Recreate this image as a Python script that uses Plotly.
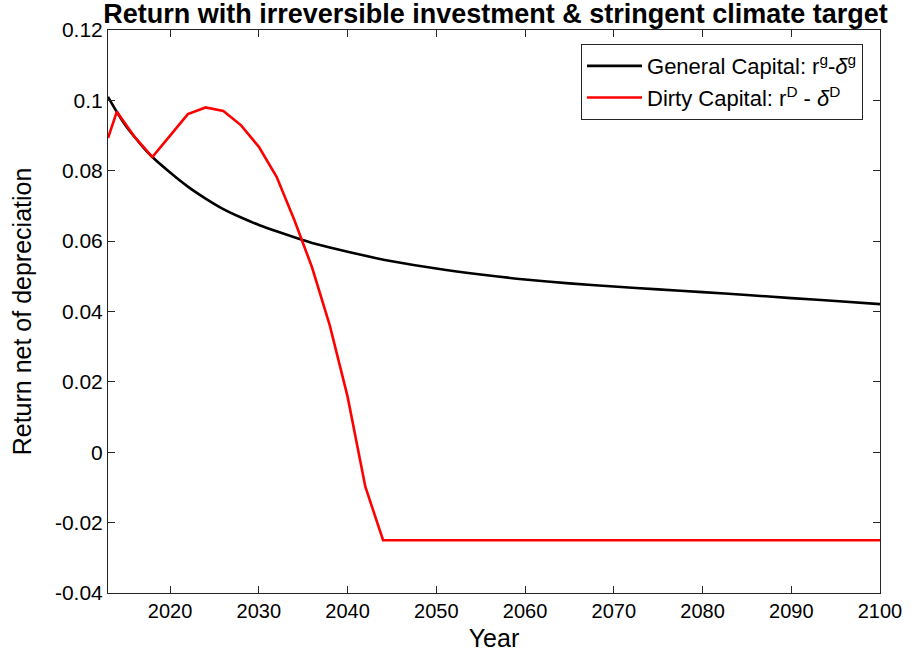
import plotly.graph_objects as go

# General capital: r^g - delta^g
general_years = [2013, 2014, 2015, 2016, 2017, 2018, 2020, 2022, 2024, 2026, 2028, 2030,
                 2032, 2034, 2036, 2038, 2040, 2043, 2045, 2050, 2055, 2060, 2065, 2070,
                 2075, 2080, 2085, 2090, 2095, 2100]
general_vals = [0.101, 0.0967, 0.0928, 0.0896, 0.0866, 0.0839, 0.0795, 0.0755, 0.0721, 0.0691,
                0.0667, 0.0646, 0.0628, 0.0611, 0.0595, 0.0582, 0.0570, 0.0553, 0.0543, 0.0522,
                0.0505, 0.0491, 0.0480, 0.0471, 0.0463, 0.0455, 0.0447, 0.0438, 0.0430, 0.0421]

# Dirty capital: r^D - delta^D
dirty_years = [2013, 2014, 2016, 2018, 2020, 2022, 2024, 2026, 2028, 2030, 2032, 2034,
               2036, 2038, 2040, 2042, 2044, 2100]
dirty_vals = [0.0893, 0.0968, 0.0896, 0.0839, 0.0900, 0.0961, 0.0980, 0.0970, 0.0929, 0.0868,
              0.0783, 0.0660, 0.0525, 0.0360, 0.0158, -0.0098, -0.0250, -0.0250]

x_ticks = [2020, 2030, 2040, 2050, 2060, 2070, 2080, 2090, 2100]
y_ticks = [-0.04, -0.02, 0, 0.02, 0.04, 0.06, 0.08, 0.1, 0.12]
y_tick_text = ["-0.04", "-0.02", "0", "0.02", "0.04", "0.06", "0.08", "0.1", "0.12"]

FONT = "Liberation Sans, Arial, Helvetica, sans-serif"
AXC = "#262626"

fig = go.Figure()
fig.add_trace(go.Scatter(
    x=general_years, y=general_vals, mode="lines",
    line=dict(color="black", width=2.6, shape="spline", smoothing=0.8),
    name="General Capital: r<sup>g</sup>-<i>δ</i><sup>g</sup>"))
fig.add_trace(go.Scatter(
    x=dirty_years, y=dirty_vals, mode="lines",
    line=dict(color="#ff0000", width=2.6),
    name="Dirty Capital: r<sup>D</sup> - <i>δ</i><sup>D</sup>"))

fig.update_layout(
    width=914, height=661,
    margin=dict(l=108, r=31, t=30, b=68),
    paper_bgcolor="white", plot_bgcolor="white",
    font=dict(family=FONT, color="black"),
    title=dict(text="<b>Return with irreversible investment & stringent climate target</b>",
               x=(108 + 883) / 2 / 914, xanchor="center", y=1 - 14 / 661, yanchor="middle",
               font=dict(size=27, family=FONT, color="black")),
    legend=dict(x=0.978, y=0.975, xanchor="right", yanchor="top",
                bgcolor="white", bordercolor=AXC, borderwidth=1,
                font=dict(size=22, family=FONT, color="black"),
                itemwidth=55, tracegroupgap=0),
    showlegend=True,
)
fig.update_xaxes(
    range=[2013, 2100], tickvals=x_ticks, ticks="inside", ticklen=7, tickcolor=AXC,
    showline=True, linecolor=AXC, linewidth=1, mirror="ticks", showgrid=False, zeroline=False,
    tickfont=dict(size=20, family=FONT, color="black"),
    title=dict(text="Year", font=dict(size=25, family=FONT, color="black"), standoff=8),
)
fig.update_yaxes(
    range=[-0.04, 0.12], tickvals=y_ticks, ticktext=y_tick_text, ticks="inside", ticklen=7,
    tickcolor=AXC, showline=True, linecolor=AXC, linewidth=1, mirror="ticks",
    showgrid=False, zeroline=False,
    tickfont=dict(size=21, family=FONT, color="black"),
    title=dict(text="Return net of depreciation", font=dict(size=25, family=FONT, color="black"),
               standoff=16),
)

fig.write_html("out.html", config={"displayModeBar": False},
               post_script="document.body.style.margin='0px';")
